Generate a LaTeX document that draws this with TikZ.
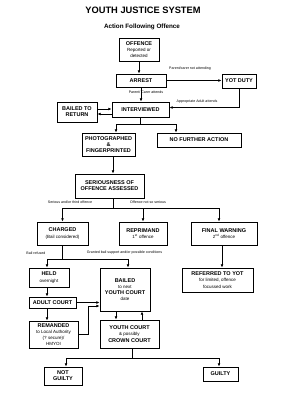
\documentclass[tikz,border=0pt]{standalone}
\usepackage{fontspec}
\setmainfont{Liberation Sans}
\usetikzlibrary{arrows.meta, positioning, calc}

\newcommand{\subtxt}[1]{{\fontsize{4.5}{5.2}\selectfont\mdseries #1}}

\begin{document}
\begin{tikzpicture}[
  x=1pt, y=-1pt,
  stage/.style={rectangle, draw, line width=0.9pt, align=center, inner sep=0pt, font=\fontsize{5.5}{6.2}\selectfont\bfseries},
  note/.style={inner sep=0pt, font=\fontsize{3.6}{4}\selectfont},
  flow/.style={line width=0.9pt, -{Latex[length=3.2pt,width=2.8pt]}},
  link/.style={line width=0.9pt},
]
\useasboundingbox[fill=white] (0,0) rectangle (290,394);

\node[font=\fontsize{9.3}{11}\selectfont\bfseries] (title) at (143,10) {YOUTH JUSTICE SYSTEM};
\node[font=\fontsize{6.3}{7.5}\selectfont\bfseries] (subtitle) at (142,27) {Action Following Offence};

\node[stage, minimum width=40pt, minimum height=23pt] (offence) at (139,49.5) {OFFENCE\\\subtxt{Reported or}\\\subtxt{detected}};
\node[stage, minimum width=50pt, minimum height=13pt] (arrest) at (141,80.5) {ARREST};
\node[stage, minimum width=34pt, minimum height=14pt] (yotduty) at (239,81) {YOT DUTY};
\node[stage, minimum width=57pt, minimum height=15pt] (interviewed) at (140.5,109.5) {INTERVIEWED};
\node[stage, minimum width=40pt, minimum height=20pt] (bailedret) at (77,112) {BAILED TO\\RETURN};
\node[stage, minimum width=53pt, minimum height=23pt] (photo) at (108.5,144.5) {PHOTOGRAPHED\\\&\\FINGERPRINTED};
\node[stage, minimum width=84pt, minimum height=14pt] (nfa) at (199,140) {NO FURTHER ACTION};
\node[stage, minimum width=69pt, minimum height=24pt] (serious) at (109.5,186) {SERIOUSNESS OF\\OFFENCE ASSESSED};
\node[stage, minimum width=51pt, minimum height=23pt] (charged) at (62.5,233.5) {CHARGED\\\subtxt{(Bail considered)}};
\node[stage, minimum width=48pt, minimum height=23pt] (reprimand) at (143,233.5) {REPRIMAND\\\subtxt{1\textsuperscript{st} offence}};
\node[stage, minimum width=66pt, minimum height=23pt] (finalwarn) at (224,233.5) {FINAL WARNING\\\subtxt{2\textsuperscript{nd} offence}};
\node[stage, minimum width=40pt, minimum height=19pt] (held) at (49,277.5) {HELD\\\subtxt{overnight}};
\node[stage, minimum width=50pt, minimum height=43pt] (bailedyc) at (125,289.5) {BAILED\\\subtxt{to next}\\YOUTH COURT\\\subtxt{date}};
\node[stage, minimum width=71pt, minimum height=24pt] (referred) at (217.5,280) {REFERRED TO YOT\\\subtxt{for limited, offence}\\\subtxt{focussed work}};
\node[stage, minimum width=47pt, minimum height=11pt] (adultcourt) at (52.5,302.5) {ADULT COURT};
\node[stage, minimum width=49pt, minimum height=27pt] (remanded) at (53.5,334.5) {REMANDED\\\subtxt{to Local Authority}\\\subtxt{(? secure)/}\\\subtxt{HMYOI}};
\node[stage, minimum width=59pt, minimum height=28pt] (youthcourt) at (129.5,334) {YOUTH COURT\\\subtxt{\& possibly}\\CROWN COURT};
\node[stage, minimum width=38pt, minimum height=18pt] (notguilty) at (63,376) {NOT\\GUILTY};
\node[stage, minimum width=35pt, minimum height=14pt] (guilty) at (220.5,374) {GUILTY};

% branch points
\coordinate (split1) at (140.5,124);
\coordinate (split2) at (113,208);
\coordinate (split3) at (62.5,259);
\coordinate (split4) at (132,358);

% arrest and interview
\draw[flow] (offence.south) -- (offence.south |- arrest.north);
\draw[flow] (arrest.east) -- (arrest.east -| yotduty.west);
\node[note] (lnotatt) at (190,69) {Parent/carer not attending};
\draw[flow] (arrest.south) -- (arrest.south |- interviewed.north);
\node[note] (lattends) at (146,92) {Parent/ Carer attends};
\draw[flow] (yotduty.south) |- ([yshift=2pt]interviewed.east);
\node[note] (ladult) at (197,102) {Appropriate Adult attends};
\draw[flow] ([yshift=3pt]bailedret.east) -- ([yshift=3pt]bailedret.east -| interviewed.west);
\draw[flow] ([yshift=-2pt]bailedret.east -| interviewed.west) -- ([yshift=-2pt]bailedret.east);

% after interview
\draw[link] (interviewed) -- (split1);
\draw[flow] (split1) -| ([xshift=7.5pt]photo.north);
\draw[flow] (split1) -| ([xshift=-23pt]nfa.north);
\draw[flow] ([xshift=4.5pt]photo.south) -- ([xshift=4.5pt]photo.south |- serious.north);

% outcome of assessment
\draw[link] (serious.south -| split2) -- (split2);
\draw[flow] (split2) -| (charged.north);
\draw[flow] (split2) -| (reprimand.north);
\draw[flow] (split2) -| ([xshift=-5pt]finalwarn.north);
\node[note] (lserious) at (70,202) {Serious and/or third offence};
\node[note] (lnotserious) at (148,202) {Offence not so serious};
\draw[flow] ([xshift=-2pt]finalwarn.south) -- ([xshift=-2pt]finalwarn.south |- referred.north);

% bail decision
\draw[link] (charged) -- (split3);
\draw[flow] (split3) -| ([xshift=-2pt]held.north);
\draw[flow] (split3) -| ([xshift=3pt]bailedyc.north);
\node[note] (lrefused) at (36,253) {Bail refused};
\node[note] (lgranted) at (124.5,253) {Granted bail support and/or possible conditions};
\draw[flow] ([xshift=-2pt]held.south) -- ([xshift=-2pt]held.south |- adultcourt.north);
\draw[flow] ([xshift=-5.5pt]adultcourt.south) -- ([xshift=-5.5pt]adultcourt.south |- remanded.north);
\draw[flow] (adultcourt.east) -- (adultcourt.east -| bailedyc.west);
\draw[flow] (remanded.east) -- ++(10,0) |- ([yshift=-16.5pt]bailedyc.west);

% court
\draw[flow] ([xshift=-9pt]bailedyc.south) -- ([xshift=-9pt]bailedyc.south |- youthcourt.north);
\draw[flow] ([xshift=17pt]bailedyc.south |- youthcourt.north) -- ([xshift=17pt]bailedyc.south);
\draw[link] (youthcourt.south -| split4) -- (split4);
\draw[flow] (split4) -| ([xshift=3pt]notguilty.north);
\draw[flow] (split4) -| ([xshift=-1.5pt]guilty.north);
\end{tikzpicture}
\end{document}
